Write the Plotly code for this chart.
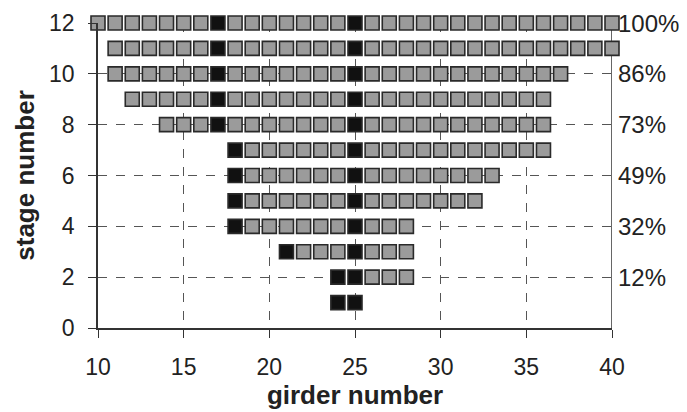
import plotly.graph_objects as go

# Data
stages = [12, 11, 10, 9, 8, 7, 6, 5, 4, 3, 2, 1]
first_girder = [10, 11, 11, 12, 14, 18, 18, 18, 18, 21, 24, 24]
last_girder = [40, 40, 37, 36, 36, 36, 33, 32, 28, 28, 28, 25]
black_girders = [[17, 25], [17, 25], [17, 25], [17, 25], [17, 25],
                 [18, 25], [18, 25], [18, 25], [18, 25], [21, 25],
                 [24, 25], [24, 25]]

pct_stages = [12, 10, 8, 6, 4, 2]
pct_labels = ["100%", "86%", "73%", "49%", "32%", "12%"]

x_ticks = [10, 15, 20, 25, 30, 35, 40]
y_ticks = [0, 2, 4, 6, 8, 10, 12]

gx, gy, bx, by = [], [], [], []
for s, a, b, blk in zip(stages, first_girder, last_girder, black_girders):
    for g in range(a, b + 1):
        if g in blk:
            bx.append(g); by.append(s)
        else:
            gx.append(g); gy.append(s)

fig = go.Figure()
fig.add_trace(go.Scatter(
    x=gx, y=gy, mode="markers", cliponaxis=False,
    marker=dict(symbol="square", size=14, color="#9b9b9b",
                line=dict(color="#2a2a2a", width=1.6)),
    hoverinfo="skip", showlegend=False))
fig.add_trace(go.Scatter(
    x=bx, y=by, mode="markers", cliponaxis=False,
    marker=dict(symbol="square", size=14, color="#111111",
                line=dict(color="#2a2a2a", width=1.6)),
    hoverinfo="skip", showlegend=False))

for s, lab in zip(pct_stages, pct_labels):
    fig.add_annotation(x=1, xref="paper", y=s, yref="y", text=lab,
                       showarrow=False, xanchor="left", xshift=4,
                       font=dict(size=24, color="#222"))

font = "Liberation Sans, Arial, sans-serif"
# page body has a default 8px margin; size the figure to fit the window
fig.update_layout(
    width=679, height=404,
    margin=dict(l=90, r=75, t=15, b=84),
    paper_bgcolor="white", plot_bgcolor="white",
    font=dict(family=font, size=23, color="#222"),
    xaxis=dict(range=[10, 40], tickvals=x_ticks, showgrid=True,
               gridcolor="#555", griddash="dash", gridwidth=1,
               showline=True, linecolor="#333", linewidth=1.5,
               mirror=False, ticks="outside", ticklen=8, tickcolor="#333",
               zeroline=False, automargin=False, ticklabelstandoff=10,
               tickfont=dict(size=23),
               title=dict(text="<b>girder number</b>", standoff=2,
                          font=dict(size=26))),
    yaxis=dict(range=[0, 12], tickvals=y_ticks, showgrid=True,
               gridcolor="#555", griddash="dash", gridwidth=1,
               showline=True, linecolor="#333", linewidth=1.5,
               ticks="outside", ticklen=8, tickcolor="#333",
               zeroline=False, automargin=False, ticklabelstandoff=9,
               tickfont=dict(size=23),
               title=dict(text="<b>stage number</b>", standoff=7,
                          font=dict(size=26))),
)
# right axis line at x=40
fig.add_shape(type="line", xref="x", yref="paper", x0=40, x1=40, y0=0, y1=1,
              line=dict(color="#333", width=1.5), layer="below")

fig.write_html("out.html")
